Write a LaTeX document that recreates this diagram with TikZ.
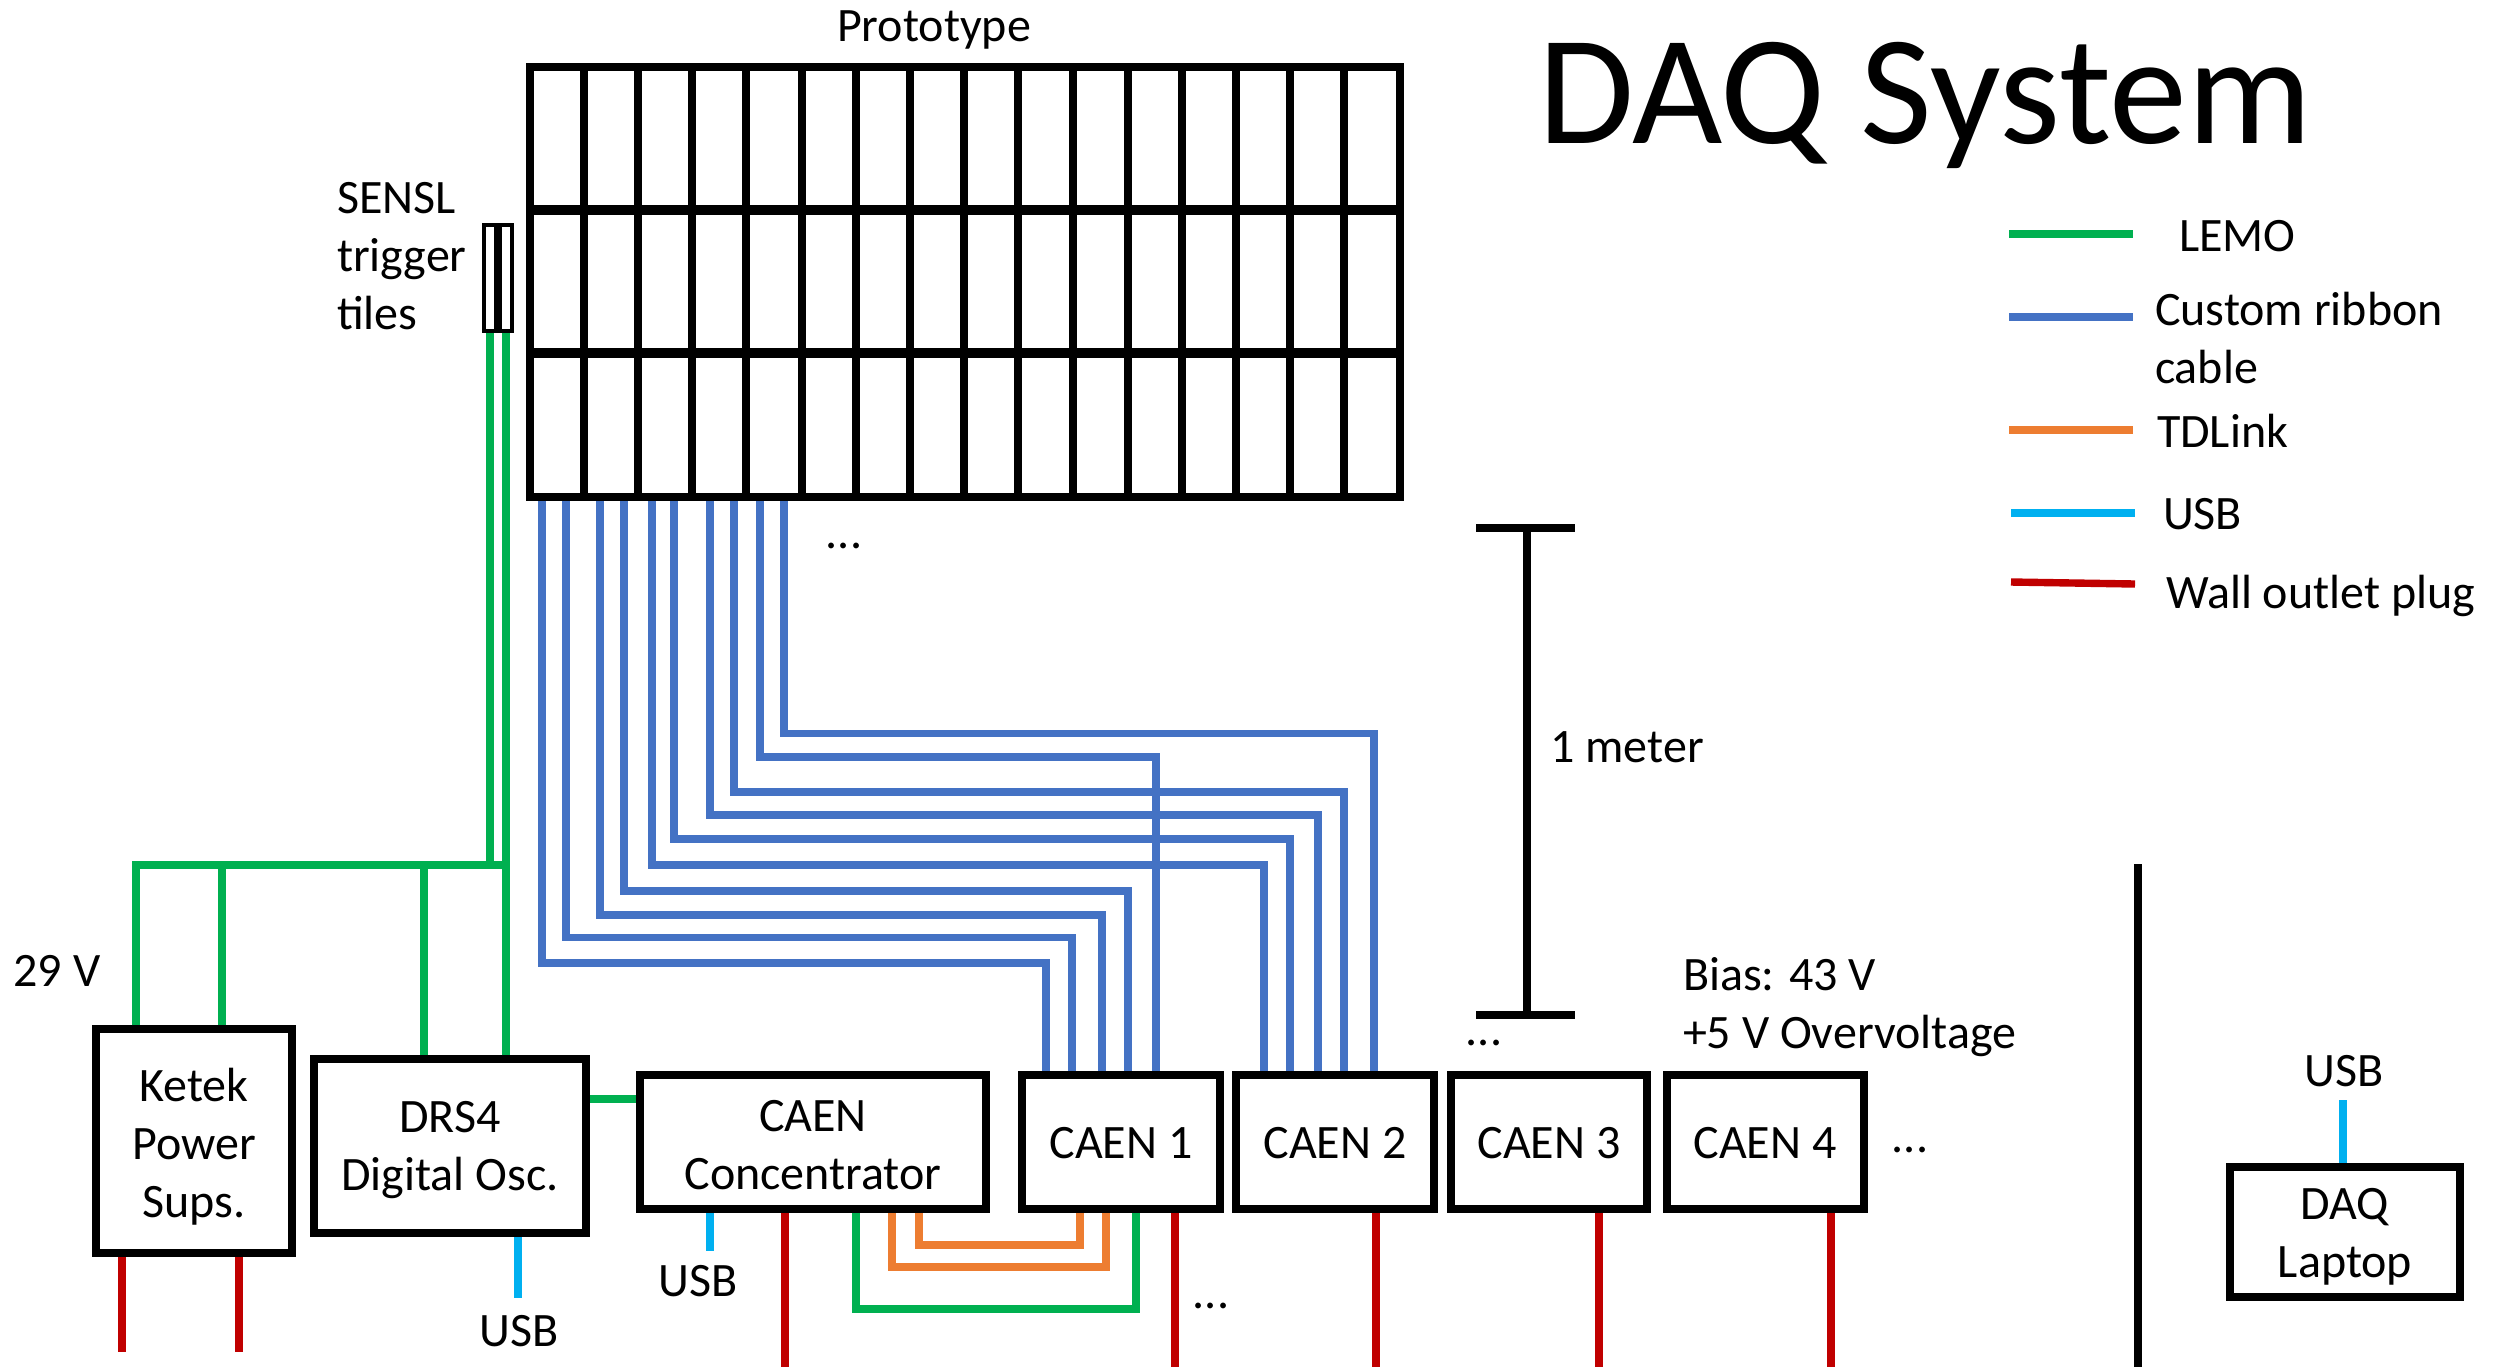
\documentclass[tikz,border=0pt]{standalone}
\usepackage{fontspec}
\setmainfont{Carlito}
\definecolor{lemo}{HTML}{00B050}
\definecolor{ribbon}{HTML}{4472C4}
\definecolor{tdlink}{HTML}{ED7D31}
\definecolor{usbc}{HTML}{00B0F0}
\definecolor{plug}{HTML}{C00000}
\newcommand{\toph}[1]{\rule{0pt}{#1pt}}
\tikzset{
  lbl/.style={inner sep=0pt,outer sep=0pt,font=\fontsize{24}{29}\selectfont},
  lbll/.style={lbl,anchor=west,align=left},
  box/.style={draw=black,line width=4pt,fill=white,inner sep=0pt,align=center,font=\fontsize{24}{29}\selectfont},
  lemow/.style={draw=lemo,line width=3.7pt},
  ribbonw/.style={draw=ribbon,line width=3.7pt},
  tdw/.style={draw=tdlink,line width=3.7pt},
  usbw/.style={draw=usbc,line width=3.7pt},
  plugw/.style={draw=plug,line width=3.7pt},
  blk/.style={draw=black,line width=4pt},
}
\begin{document}
\begin{tikzpicture}[x=0.5pt,y=-0.5pt]
\useasboundingbox (0,0) rectangle (2494,1367);
% prototype
\node[box,fill=none,minimum width=435pt,minimum height=215pt] (proto) at (965,282) {};
\foreach \gx in {584,638,692,746,802,856,910,964,1018,1073,1128,1182,1236,1290,1344}
  \draw[blk] (\gx,0 |- proto.north) -- (\gx,0 |- proto.south);
\draw[blk,line width=5pt] (proto.west |- 0,210) -- (proto.east |- 0,210);
\draw[blk,line width=5pt] (proto.west |- 0,353) -- (proto.east |- 0,353);
\node[lbl] (protolabel) at (934,30) {Prototype};
% trigger tiles
\node[box,line width=2pt,minimum width=14pt,minimum height=53pt] (tile) at (498,278) {};
\draw[blk] (tile.north) -- (tile.south);
\node[lbll] (sensl) at (337,256) {SENSL\\trigger\\tiles};
% boxes
\node[box,minimum width=98pt,minimum height=112pt] (ketek) at (194,1141) {\toph{22.4}Ketek\\Power\\Sups.};
\node[box,minimum width=136pt,minimum height=87pt] (drs) at (450,1146) {\toph{20}DRS4\\Digital Osc.};
\node[box,minimum width=173pt,minimum height=67pt] (conc) at (813,1142) {\toph{18.4}CAEN\\Concentrator};
\node[box,minimum width=99pt,minimum height=67pt] (caena) at (1121,1142) {\toph{17}CAEN 1};
\node[box,minimum width=99pt,minimum height=67pt] (caenb) at (1335,1142) {\toph{17}CAEN 2};
\node[box,minimum width=98pt,minimum height=67pt] (caenc) at (1549,1142) {\toph{17}CAEN 3};
\node[box,minimum width=98.5pt,minimum height=67pt] (caend) at (1765,1142) {\toph{17}CAEN 4};
\node[box,minimum width=115pt,minimum height=65pt] (laptop) at (2345,1231.5) {\toph{21}DAQ\\Laptop};
% LEMO
\coordinate (bus) at (506,865);
\draw[lemow] (tile.south -| 490,0) -- (490,865);
\draw[lemow] (tile.south -| 506,0) -- (bus);
\draw[lemow] (ketek.north -| 136,0) -- (136,865) -- (bus);
\draw[lemow] (ketek.north -| 222,0) -- (222,865);
\draw[lemow] (drs.north -| 424,0) -- (424,865);
\draw[lemow] (drs.north -| 506,0) -- (bus);
\draw[lemow] (drs.east |- 0,1099) -- (conc.west |- 0,1099);
\draw[lemow] (conc.south -| 856,0) |- (1136,1309) -- (caena.south -| 1136,0);
% TDLink
\draw[tdw] (conc.south -| 919,0) |- (1080,1245) -- (caena.south -| 1080,0);
\draw[tdw] (conc.south -| 892,0) |- (1106,1267) -- (caena.south -| 1106,0);
% ribbon cables
\draw[ribbonw] (proto.south -| 542,0) |- (1046,963) -- (caena.north -| 1046,0);
\draw[ribbonw] (proto.south -| 566,0) |- (1072,937.5) -- (caena.north -| 1072,0);
\draw[ribbonw] (proto.south -| 600,0) |- (1102,915) -- (caena.north -| 1102,0);
\draw[ribbonw] (proto.south -| 624,0) |- (1128,891) -- (caena.north -| 1128,0);
\draw[ribbonw] (proto.south -| 652,0) |- (1264,865) -- (caenb.north -| 1264,0);
\draw[ribbonw] (proto.south -| 674,0) |- (1290,839) -- (caenb.north -| 1290,0);
\draw[ribbonw] (proto.south -| 710,0) |- (1318,815) -- (caenb.north -| 1318,0);
\draw[ribbonw] (proto.south -| 734,0) |- (1344,792) -- (caenb.north -| 1344,0);
\draw[ribbonw] (proto.south -| 760,0) |- (1156,757) -- (caena.north -| 1156,0);
\draw[ribbonw] (proto.south -| 784,0) |- (1374,733.5) -- (caenb.north -| 1374,0);
% USB
\draw[usbw] (drs.south -| 518,0) -- (518,1298);
\draw[usbw] (conc.south -| 710,0) -- (710,1251);
\draw[usbw] (laptop.north -| 2343,0) -- (2343,1100);
% plugs
\draw[plugw] (ketek.south -| 122,0) -- (122,1352);
\draw[plugw] (ketek.south -| 239,0) -- (239,1352);
\draw[plugw] (conc.south -| 785,0) -- (785,1367);
\draw[plugw] (caena.south -| 1175,0) -- (1175,1367);
\draw[plugw] (caenb.south -| 1376,0) -- (1376,1367);
\draw[plugw] (caenc.south -| 1599,0) -- (1599,1367);
\draw[plugw] (caend.south -| 1831,0) -- (1831,1367);
% scale bar
\coordinate (bartop) at (1527,528);
\coordinate (barbot) at (1527,1015);
\draw[blk] (bartop) -- (barbot);
\draw[blk] (1476,528) -- (1575,528);
\draw[blk] (1476,1015) -- (1575,1015);
\node[lbl] (meter) at (1627,747) {1 meter};
% divider
\coordinate (divt) at (2138,864);
\coordinate (divb) at (2138,1367);
\draw[blk] (divt) -- (divb);
% labels
\node[lbl] (dotsa) at (844,546) {...};
\node[lbl] (dotsb) at (1484,1043) {...};
\node[lbl] (dotsc) at (1910,1150) {...};
\node[lbl] (dotsd) at (1211,1306) {...};
\node[lbl] (volt) at (57,971) {29 V};
\node[lbll] (bias) at (1683,1007) {Bias: 43 V\\+5 V Overvoltage};
\node[lbl] (usba) at (519,1331) {USB};
\node[lbl] (usbb) at (698,1281) {USB};
\node[lbl] (usbd) at (2344,1071) {USB};
\node[lbl,font=\fontsize{78}{80}\selectfont] (title) at (1925,105) {DAQ System};
% legend
\coordinate (la) at (2009,234); \coordinate (lb) at (2133,234);
\draw[lemow] (la) -- (lb);
\coordinate (lc) at (2009,317); \coordinate (ld) at (2133,317);
\draw[ribbonw] (lc) -- (ld);
\coordinate (le) at (2009,430); \coordinate (lf) at (2133,430);
\draw[tdw] (le) -- (lf);
\coordinate (lg) at (2011,513); \coordinate (lh) at (2135,513);
\draw[usbw] (lg) -- (lh);
\coordinate (li) at (2011,582); \coordinate (lj) at (2135,584);
\draw[plugw] (li) -- (lj);
\node[lbll] (tlemo) at (2179,236) {LEMO};
\node[lbll] (tribbon) at (2155,338) {Custom ribbon\\cable};
\node[lbll] (ttd) at (2157,431) {TDLink};
\node[lbll] (tusb) at (2163,514) {USB};
\node[lbll] (twall) at (2166,596) {Wall outlet plug};
\end{tikzpicture}
\end{document}
